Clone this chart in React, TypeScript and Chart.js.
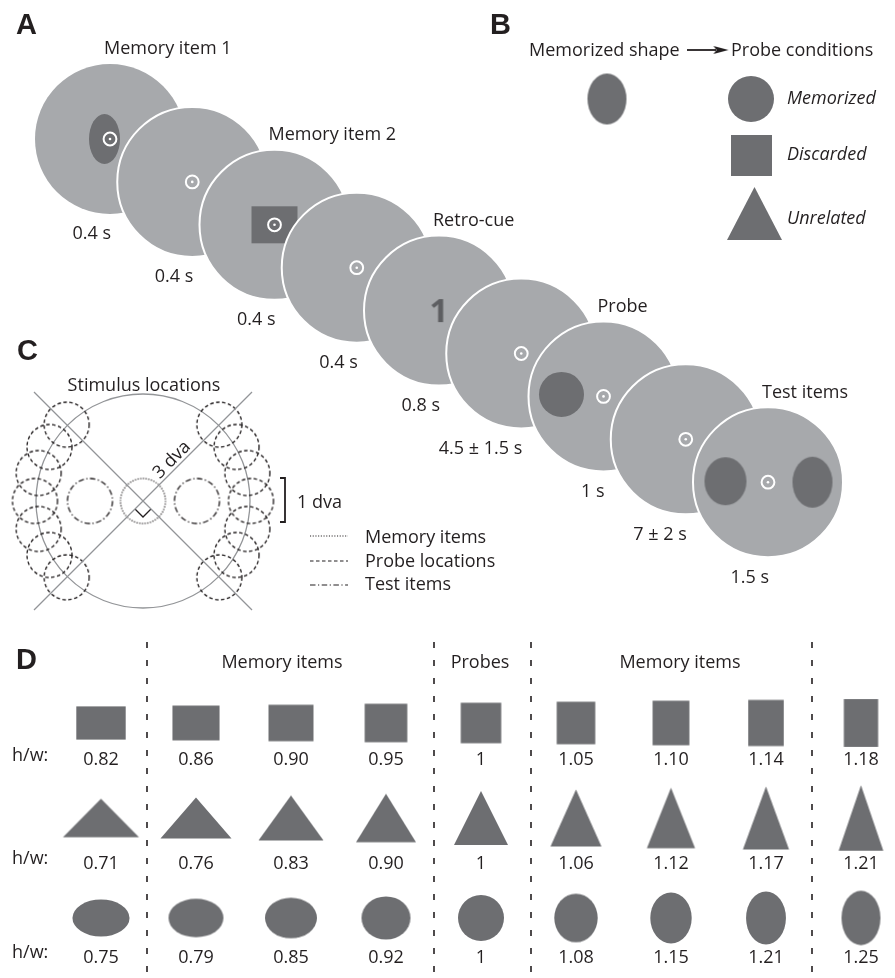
import React, { useEffect, useRef } from "react";
import { Chart, registerables } from "chart.js";

Chart.register(...registerables);

const W = 895;
const H = 978;

// ---------------- data ----------------
const frameTitles = ["Memory item 1", "", "Memory item 2", "", "Retro-cue", "", "Probe", "", "Test items"];
const frameDurations = ["0.4 s", "0.4 s", "0.4 s", "0.4 s", "0.8 s", "4.5 ± 1.5 s", "1 s", "7 ± 2 s", "1.5 s"];
const frameContents = ["ellipse", "blank", "square", "blank", "cue", "blank", "probe", "blank", "test"];
const retroCueDigit = "1";
const panelBTitles = ["Memorized shape", "Probe conditions"];
const probeConditions = ["Memorized", "Discarded", "Unrelated"];
const stimulusTitle = "Stimulus locations";
const stimulusLegend = ["Memory items", "Probe locations", "Test items"];
const distanceLabels = ["3 dva", "1 dva"];
const probeAnglesDeg = [-45, -30, -15, 0, 15, 30, 45];
const squareRatios = [0.82, 0.86, 0.9, 0.95, 1, 1.05, 1.1, 1.14, 1.18];
const triangleRatios = [0.71, 0.76, 0.83, 0.9, 1, 1.06, 1.12, 1.17, 1.21];
const ellipseRatios = [0.75, 0.79, 0.85, 0.92, 1, 1.08, 1.15, 1.21, 1.25];
const columnGroups = ["Memory items", "Probes", "Memory items"];
const rowLabel = "h/w:";
const panelLetters = ["A", "B", "C", "D"];

// ---------------- styles / layout ----------------
const COL = {
  disc: "#a7a9ac",
  dark: "#6d6e71",
  cue: "#5d5e61",
  ink: "#231f20",
  grey: "#939598",
  white: "#ffffff",
  none: "rgba(0,0,0,0)",
};
const FONT = '"Open Sans", "Noto Sans", sans-serif';
const LETTER_FONT = '"Liberation Sans", Arial, sans-serif';
const FS = 18;

const FRAME = { x0: 110, y0: 139, dx: 82.25, dy: 42.9, r: 75 };
const STIM = { cx: 143, cy: 501, r: 107, arc: 108, small: 22.5, diag: 109 };
const GRID = { x0: 101, dx: 95, rowY: [723, 818, 918], labelY: [759, 863, 957], hwY: [755, 858, 952] };
const SEPARATORS_X = [147, 434, 531, 812];

type Pt = { x: number; y: number; style: any; r: number; bg: string; bc: string; bw: number };

function sprite(w: number, h: number, paint: (ctx: CanvasRenderingContext2D) => void) {
  const c = document.createElement("canvas");
  c.width = Math.ceil(w) + 4;
  c.height = Math.ceil(h) + 4;
  const ctx = c.getContext("2d")!;
  ctx.translate(c.width / 2, c.height / 2);
  paint(ctx);
  return c;
}
const ellipseImg = (w: number, h: number, color: string) =>
  sprite(w, h, (ctx) => {
    ctx.fillStyle = color;
    ctx.beginPath();
    ctx.ellipse(0, 0, w / 2, h / 2, 0, 0, Math.PI * 2);
    ctx.fill();
  });
const rectImg = (w: number, h: number, color: string) =>
  sprite(w, h, (ctx) => {
    ctx.fillStyle = color;
    ctx.fillRect(-w / 2, -h / 2, w, h);
  });
const triImg = (w: number, h: number, color: string) =>
  sprite(w, h, (ctx) => {
    ctx.fillStyle = color;
    ctx.beginPath();
    ctx.moveTo(0, -h / 2);
    ctx.lineTo(w / 2, h / 2);
    ctx.lineTo(-w / 2, h / 2);
    ctx.closePath();
    ctx.fill();
  });
const arrowHeadImg = (len: number, half: number, color: string) =>
  sprite(len, half * 2, (ctx) => {
    ctx.fillStyle = color;
    ctx.beginPath();
    ctx.moveTo(len / 2, 0);
    ctx.lineTo(-len / 2, -half);
    ctx.lineTo(-len / 2 + 3, 0);
    ctx.lineTo(-len / 2, half);
    ctx.closePath();
    ctx.fill();
  });
const ringImg = (r: number, dash: number[], color: string, lw: number) =>
  sprite(2 * r + lw, 2 * r + lw, (ctx) => {
    ctx.strokeStyle = color;
    ctx.lineWidth = lw;
    ctx.setLineDash(dash);
    ctx.beginPath();
    ctx.arc(0, 0, r, 0, Math.PI * 2);
    ctx.stroke();
  });
const textImg = (txt: string, size: number, color: string) =>
  sprite(size, size * 1.3, (ctx) => {
    ctx.font = `bold ${size}px ${FONT}`;
    ctx.fillStyle = color;
    ctx.textAlign = "center";
    ctx.textBaseline = "alphabetic";
    ctx.fillText(txt, 0, size * 0.357);
  });

const img = (x: number, y: number, c: HTMLCanvasElement): Pt => ({
  x, y, style: c, r: Math.max(c.width, c.height) / 2, bg: COL.none, bc: COL.none, bw: 0,
});
const dot = (x: number, y: number, r: number, bg: string, bc: string, bw: number): Pt => ({
  x, y, style: "circle", r, bg, bc, bw,
});

function pointsDataset(pts: Pt[], order: number) {
  return {
    data: pts.map((p) => ({ x: p.x, y: p.y })),
    showLine: false,
    pointStyle: pts.map((p) => p.style),
    pointRadius: pts.map((p) => p.r),
    pointHoverRadius: pts.map((p) => p.r),
    pointBackgroundColor: pts.map((p) => p.bg),
    pointHoverBackgroundColor: pts.map((p) => p.bg),
    pointBorderColor: pts.map((p) => p.bc),
    pointHoverBorderColor: pts.map((p) => p.bc),
    pointBorderWidth: pts.map((p) => p.bw),
    pointHoverBorderWidth: pts.map((p) => p.bw),
    order,
    clip: false,
  };
}
function lineDataset(xy: number[][], color: string, width: number, dash: number[] = [], order = 0) {
  return {
    data: xy.map(([x, y]) => ({ x, y })),
    showLine: true,
    borderColor: color,
    borderWidth: width,
    borderDash: dash,
    borderCapStyle: "butt",
    borderJoinStyle: "miter",
    pointRadius: 0,
    pointHoverRadius: 0,
    tension: 0,
    fill: false,
    order,
    clip: false,
  };
}

const fmtRatio = (r: number) => (r === 1 ? "1" : r.toFixed(2));
const colX = (i: number) => GRID.x0 + GRID.dx * i;

function buildDatasets() {
  const ds: any[] = [];
  // ----- Panel A: trial sequence -----
  const cueImg = textImg(retroCueDigit, 33, COL.cue);
  frameContents.forEach((kind, i) => {
    const cx = FRAME.x0 + FRAME.dx * i;
    const cy = FRAME.y0 + FRAME.dy * i;
    const pts: Pt[] = [dot(cx, cy, FRAME.r, COL.disc, COL.white, i === 0 ? 0 : 2)];
    if (kind === "ellipse") pts.push(img(cx - 5.5, cy, ellipseImg(31, 50, COL.dark)));
    if (kind === "square") pts.push(img(cx, cy, rectImg(46, 37, COL.dark)));
    if (kind === "probe") pts.push(dot(cx - 42, cy - 2, 22.5, COL.dark, COL.dark, 0));
    if (kind === "test") {
      pts.push(img(cx - 42.5, cy - 1, ellipseImg(42, 48, COL.dark)));
      pts.push(img(cx + 44.5, cy, ellipseImg(40, 51, COL.dark)));
    }
    if (kind === "cue") {
      pts.push(img(cx, cy, cueImg));
    } else {
      pts.push(dot(cx, cy, 6.4, COL.none, COL.white, 2));
      pts.push(dot(cx, cy, 1.3, COL.white, COL.white, 0));
    }
    ds.push(pointsDataset(pts, 100 - i));
  });

  // ----- Panel B -----
  ds.push(lineDataset([[687, 50], [716, 50]], COL.ink, 1.8));
  ds.push(
    pointsDataset(
      [
        img(721, 50, arrowHeadImg(15, 4, COL.ink)),
        img(607, 99, ellipseImg(39, 51, COL.dark)),
        dot(751, 99, 23, COL.dark, COL.dark, 0),
        img(751.5, 155.5, rectImg(41, 41, COL.dark)),
        img(754.5, 213.5, triImg(55, 53, COL.dark)),
      ],
      0
    )
  );

  // ----- Panel C -----
  const { cx, cy } = STIM;
  ds.push(lineDataset([[cx - STIM.diag, cy - STIM.diag], [cx + STIM.diag, cy + STIM.diag]], COL.grey, 1.3));
  ds.push(lineDataset([[cx + STIM.diag, cy - STIM.diag], [cx - STIM.diag, cy + STIM.diag]], COL.grey, 1.3));
  ds.push(lineDataset([[cx - 8, cy + 8], [cx, cy + 16], [cx + 8, cy + 8]], COL.ink, 1.3));
  ds.push(lineDataset([[280, 478], [285, 478], [285, 522], [280, 522]], COL.ink, 1.8));
  const dotted = [1.1, 1.6];
  const dashed = [3.5, 2.5];
  const dashDot = [5.5, 2.5, 1.2, 2.5];
  ds.push(lineDataset([[310, 536], [348, 536]], COL.ink, 1.1, dotted));
  ds.push(lineDataset([[310, 561], [348, 561]], COL.ink, 1.1, dashed));
  ds.push(lineDataset([[310, 585], [348, 585]], COL.ink, 1.1, dashDot));
  const stimPts: Pt[] = [dot(cx, cy, STIM.r, COL.none, COL.grey, 1.3)];
  stimPts.push(img(cx, cy, ringImg(STIM.small, dotted, COL.ink, 1.3)));
  const testRing = ringImg(STIM.small, dashDot, COL.ink, 1.35);
  stimPts.push(img(90, cy, testRing));
  stimPts.push(img(197, cy, testRing));
  const probeRing = ringImg(STIM.small, dashed, COL.ink, 1.35);
  probeAnglesDeg.forEach((a) => {
    const t = (a * Math.PI) / 180;
    stimPts.push(img(cx - STIM.arc * Math.cos(t), cy + STIM.arc * Math.sin(t), probeRing));
    stimPts.push(img(cx + STIM.arc * Math.cos(t), cy + STIM.arc * Math.sin(t), probeRing));
  });
  ds.push(pointsDataset(stimPts, 0));

  // ----- Panel D -----
  SEPARATORS_X.forEach((x) => ds.push(lineDataset([[x, 642], [x, H]], COL.ink, 1.6, [6, 12])));
  const dPts: Pt[] = [];
  squareRatios.forEach((r, i) => dPts.push(img(colX(i), GRID.rowY[0], rectImg(40.5 / r, 40.5 * r, COL.dark))));
  triangleRatios.forEach((r, i) => dPts.push(img(colX(i), GRID.rowY[1], triImg(54 / r, 54 * r, COL.dark))));
  ellipseRatios.forEach((r, i) =>
    dPts.push(img(colX(i), GRID.rowY[2], ellipseImg(46 / Math.pow(r, 0.75), 46 * Math.pow(r, 0.75), COL.dark)))
  );
  ds.push(pointsDataset(dPts, 0));
  return ds;
}

type TextItem = {
  text: string; x: number; y: number; size?: number; align?: CanvasTextAlign;
  weight?: string; italic?: boolean; rot?: number; family?: string; color?: string;
};

function buildTexts(): TextItem[] {
  const t: TextItem[] = [];
  const letterPos = [[16, 24], [490, 24], [17, 350], [16, 659]];
  panelLetters.forEach((l, i) =>
    t.push({ text: l, x: letterPos[i][0], y: letterPos[i][1], size: 29, weight: "bold", family: LETTER_FONT })
  );
  frameTitles.forEach((s, i) => {
    if (!s) return;
    t.push({ text: s, x: FRAME.x0 + FRAME.dx * i - 6, y: FRAME.y0 + FRAME.dy * i - 91 });
  });
  frameDurations.forEach((s, i) =>
    t.push({ text: s, x: FRAME.x0 + FRAME.dx * i + 1, y: FRAME.y0 + FRAME.dy * i + 94, align: "right" })
  );
  t.push({ text: panelBTitles[0], x: 529, y: 50 });
  t.push({ text: panelBTitles[1], x: 731, y: 50 });
  const condY = [98, 154, 218];
  probeConditions.forEach((s, i) => t.push({ text: s, x: 787, y: condY[i], italic: true }));
  t.push({ text: stimulusTitle, x: 144, y: 385, align: "center" });
  t.push({ text: distanceLabels[0], x: 171, y: 459, align: "center", rot: -Math.PI / 4 });
  t.push({ text: distanceLabels[1], x: 297, y: 502 });
  const legY = [537, 561, 584];
  stimulusLegend.forEach((s, i) => t.push({ text: s, x: 365, y: legY[i] }));
  const groupX = [282, 480, 680];
  columnGroups.forEach((s, i) => t.push({ text: s, x: groupX[i], y: 662, align: "center" }));
  GRID.hwY.forEach((y) => t.push({ text: rowLabel, x: 12, y }));
  [squareRatios, triangleRatios, ellipseRatios].forEach((arr, row) =>
    arr.forEach((r, i) => t.push({ text: fmtRatio(r), x: colX(i), y: GRID.labelY[row], align: "center" }))
  );
  return t;
}

const textPlugin = {
  id: "diagramText",
  afterDatasetsDraw(chart: any) {
    const { ctx } = chart;
    const sx = chart.scales.x;
    const sy = chart.scales.y;
    const items: TextItem[] = chart.options.plugins.diagramText.items;
    items.forEach((it) => {
      const size = it.size ?? FS;
      ctx.save();
      ctx.font = `${it.italic ? "italic " : ""}${it.weight ?? "normal"} ${size}px ${it.family ?? FONT}`;
      ctx.fillStyle = it.color ?? COL.ink;
      ctx.textAlign = it.align ?? "left";
      ctx.textBaseline = "alphabetic";
      ctx.translate(sx.getPixelForValue(it.x), sy.getPixelForValue(it.y));
      if (it.rot) ctx.rotate(it.rot);
      ctx.fillText(it.text, 0, size * 0.357);
      ctx.restore();
    });
  },
};

export default function App() {
  const ref = useRef<HTMLCanvasElement | null>(null);
  useEffect(() => {
    if (!ref.current) return;
    const chart = new Chart(ref.current, {
      type: "scatter",
      data: { datasets: buildDatasets() },
      options: {
        animation: false,
        responsive: false,
        maintainAspectRatio: false,
        events: [],
        layout: { padding: 0, autoPadding: false },
        scales: {
          x: { type: "linear", min: 0, max: W, display: false },
          y: { type: "linear", min: 0, max: H, reverse: true, display: false },
        },
        plugins: {
          legend: { display: false },
          tooltip: { enabled: false },
          title: { display: false },
          diagramText: { items: buildTexts() },
        } as any,
      },
      plugins: [textPlugin],
    } as any);
    return () => chart.destroy();
  }, []);
  return (
    <div style={{ position: "absolute", left: 0, top: 0, width: W, height: H, background: "#fff" }}>
      <canvas ref={ref} width={W} height={H} style={{ display: "block", width: W, height: H }} />
    </div>
  );
}
